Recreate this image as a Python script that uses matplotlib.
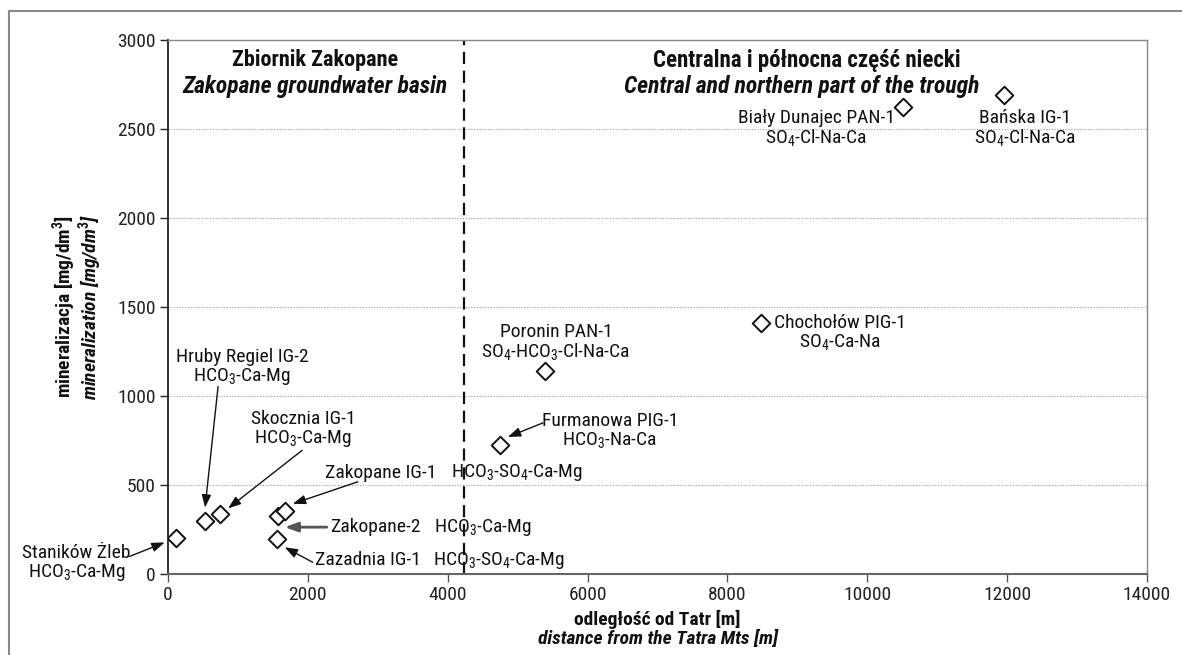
import matplotlib.pyplot as plt
from matplotlib import font_manager
from matplotlib.transforms import offset_copy
from matplotlib.lines import Line2D

# pick a condensed font (close to Arial Narrow) if there is one
_names = {f.name for f in font_manager.fontManager.ttflist}
FONT = 'Liberation Sans'
for cand in ['Roboto Condensed', 'Archivo Narrow', 'IBM Plex Sans Condensed', 'Sofia Sans Condensed']:
    if cand in _names:
        FONT = cand
        break
plt.rcParams['font.family'] = [FONT, 'DejaVu Sans']
plt.rcParams['mathtext.fontset'] = 'custom'
plt.rcParams['mathtext.rm'] = FONT
plt.rcParams['mathtext.it'] = FONT + ':italic'
plt.rcParams['mathtext.bf'] = FONT + ':bold'
plt.rcParams['mathtext.default'] = 'regular'

# wells: distance from the Tatra Mts [m] and mineralization [mg/dm3]
wells = ['Staników Żleb', 'Hruby Regiel IG-2', 'Skocznia IG-1', 'Zakopane-2', 'Zakopane IG-1',
         'Zazadnia IG-1', 'Furmanowa PIG-1', 'Poronin PAN-1', 'Chochołów PIG-1',
         'Biały Dunajec PAN-1', 'Bańska IG-1']
distance = [110, 530, 745, 1570, 1670, 1555, 4745, 5390, 8485, 10515, 11960]
mineral = [200, 300, 335, 325, 355, 195, 725, 1140, 1410, 2625, 2690]
water_type = ['HCO$_3$-Ca-Mg', 'HCO$_3$-Ca-Mg', 'HCO$_3$-Ca-Mg', 'HCO$_3$-Ca-Mg',
              'HCO$_3$-SO$_4$-Ca-Mg', 'HCO$_3$-SO$_4$-Ca-Mg', 'HCO$_3$-Na-Ca',
              'SO$_4$-HCO$_3$-Cl-Na-Ca', 'SO$_4$-Ca-Na', 'SO$_4$-Cl-Na-Ca', 'SO$_4$-Cl-Na-Ca']
boundary_x = 4230

x_ticks = [0, 2000, 4000, 6000, 8000, 10000, 12000, 14000]
y_ticks = [0, 500, 1000, 1500, 2000, 2500, 3000]

fig = plt.figure(figsize=(11.82, 6.55), dpi=100)
ax = fig.add_axes([168 / 1182, 81 / 655, 979 / 1182, 534 / 655])

# outer frame of the figure
fig.add_artist(Line2D([9 / 1182, 9 / 1182], [0, 1 - 11 / 655], color='#888888', lw=1.5))
fig.add_artist(Line2D([9 / 1182, 1], [1 - 11 / 655, 1 - 11 / 655], color='#888888', lw=1.5))

ax.set_xlim(0, 14000)
ax.set_ylim(0, 3000)
ax.set_xticks(x_ticks)
ax.set_yticks(y_ticks)
ax.tick_params(labelsize=14, length=6, width=1, pad=3)
ax.tick_params(axis='x', colors='#555555', labelcolor='#222222')
ax.tick_params(axis='y', colors='#222222', labelcolor='#222222')
ax.grid(axis='y', linestyle=(0, (1, 1.5)), color='#999999', lw=0.8)
ax.set_axisbelow(True)
ax.spines['left'].set_color('#222222')
ax.spines['left'].set_linewidth(1.3)
ax.spines['bottom'].set_color('#666666')
ax.spines['bottom'].set_linewidth(1.5)
for s in ['top', 'right']:
    ax.spines[s].set_color('#888888')
    ax.spines[s].set_linewidth(1)

ax.axvline(boundary_x, color='#111111', lw=1.6, linestyle=(0, (5.5, 3)))

ax.scatter(distance, mineral, marker='D', s=80, facecolor='white', edgecolor='#111111',
           linewidth=1.4, zorder=5)

FS = 14
# label offsets in pixels from each point: (dx, dy, ha)
label_pos = {
    'Staników Żleb': (-99, -25, 'center'),
    'Hruby Regiel IG-2': (37, 153, 'center'),
    'Skocznia IG-1': (83, 85, 'center'),
    'Poronin PAN-1': (11, 29, 'center'),
    'Furmanowa PIG-1': (110, 14, 'center'),
    'Chochołów PIG-1': (79, -10, 'center'),
    'Biały Dunajec PAN-1': (-87, -22, 'center'),
    'Bańska IG-1': (21, -33, 'center'),
}
# single-line labels: name offset and water-type offset
row_pos = {
    'Zakopane IG-1': (40, 38, 166),
    'Zakopane-2': (52, -11, 156),
    'Zazadnia IG-1': (38, -21, 156),
}
for name, x, y, wt in zip(wells, distance, mineral, water_type):
    if name in label_pos:
        dx, dy, ha = label_pos[name]
        ax.annotate(name + '\n' + wt, (x, y), xytext=(dx, dy), textcoords='offset pixels',
                    ha=ha, va='center', fontsize=FS, linespacing=1.0, color='#111111',
                    annotation_clip=False)
    else:
        dx, dy, dx2 = row_pos[name]
        ax.annotate(name, (x, y), xytext=(dx, dy), textcoords='offset pixels',
                    ha='left', va='center', fontsize=FS, color='#111111')
        ax.annotate(wt, (x, y), xytext=(dx2, dy), textcoords='offset pixels',
                    ha='left', va='center', fontsize=FS, color='#111111')

# arrows: head offset from point and tail offset from head, pixels
arrow_pos = {
    'Staników Żleb': (-11, -4, -35, -14),
    'Hruby Regiel IG-2': (0, 13, 13, 121),
    'Skocznia IG-1': (8, 6, 74, 58),
    'Zakopane IG-1': (8, 7, 65, 22),
    'Zakopane-2': (7, -11, 42, 0),
    'Zazadnia IG-1': (8, -8, 28, -15),
    'Furmanowa PIG-1': (8, 8, 35, 14),
}
for name, x, y in zip(wells, distance, mineral):
    if name not in arrow_pos:
        continue
    hx, hy, tx, ty = arrow_pos[name]
    thick = name == 'Zakopane-2'
    ax.annotate('', (x, y), xycoords=offset_copy(ax.transData, fig=fig, x=hx, y=hy, units='dots'),
                xytext=(tx, ty), textcoords='offset pixels', annotation_clip=False,
                arrowprops=dict(arrowstyle='-|>,head_length=0.55,head_width=0.2',
                                mutation_scale=14, shrinkA=0, shrinkB=0,
                                color='#555555' if thick else '#111111',
                                lw=2 if thick else 1))

# region titles
ax.text(0.150, 0.9625, 'Zbiornik Zakopane', transform=ax.transAxes, ha='center', va='center',
        fontsize=16, fontweight='bold', color='#111111')
ax.text(0.150, 0.912, 'Zakopane groundwater basin', transform=ax.transAxes, ha='center',
        va='center', fontsize=17, fontweight='bold', fontstyle='italic', color='#111111')
ax.text(0.653, 0.9625, 'Centralna i północna część niecki', transform=ax.transAxes, ha='center',
        va='center', fontsize=16.5, fontweight='bold', color='#111111')
ax.text(0.647, 0.912, 'Central and northern part of the trough', transform=ax.transAxes,
        ha='center', va='center', fontsize=17, fontweight='bold', fontstyle='italic',
        color='#111111')

# axis titles (two languages)
ax.text(0.5, -0.086, 'odległość od Tatr [m]', transform=ax.transAxes, ha='center', va='center',
        fontsize=14, fontweight='bold', color='#111111')
ax.text(0.5, -0.122, 'distance from the Tatra Mts [m]', transform=ax.transAxes, ha='center',
        va='center', fontsize=14, fontweight='bold', fontstyle='italic', color='#111111')
ax.text(-0.106, 0.5, r'mineralizacja [mg/dm$^\mathbf{3}$]', transform=ax.transAxes, ha='center',
        va='center', rotation=90, fontsize=14, fontweight='bold', color='#111111')
ax.text(-0.080, 0.5, r'mineralization [mg/dm$^\mathbf{3}$]', transform=ax.transAxes, ha='center',
        va='center', rotation=90, fontsize=14, fontweight='bold', fontstyle='italic',
        color='#111111')

fig.savefig('out.png', dpi=100)
